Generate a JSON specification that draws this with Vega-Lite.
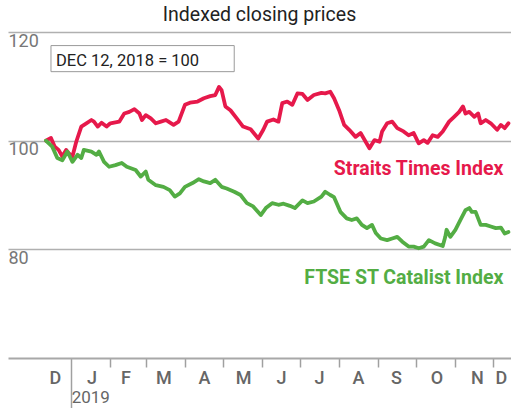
{
  "$schema": "https://vega.github.io/schema/vega-lite/v6.json",
  "width": 503,
  "height": 326,
  "autosize": "none",
  "padding": {"left": 8, "top": 32, "right": 0, "bottom": 50},
  "background": "white",
  "title": {"text": "Indexed closing prices", "font": "Roboto", "fontSize": 19.5, "fontWeight": "normal", "color": "#222222", "anchor": "middle", "frame": "group", "baseline": "alphabetic", "offset": -8},
  "config": {"view": {"stroke": null}},
  "datasets": {
    "prices": [
      {"date": "2018-12-12", "series": "Straits Times Index", "value": 100.0},
      {"date": "2018-12-16", "series": "Straits Times Index", "value": 100.5},
      {"date": "2018-12-19", "series": "Straits Times Index", "value": 98.9},
      {"date": "2018-12-22", "series": "Straits Times Index", "value": 98.3},
      {"date": "2018-12-25", "series": "Straits Times Index", "value": 97.1},
      {"date": "2018-12-28", "series": "Straits Times Index", "value": 98.3},
      {"date": "2018-12-30", "series": "Straits Times Index", "value": 97.7},
      {"date": "2019-01-02", "series": "Straits Times Index", "value": 97.1},
      {"date": "2019-01-05", "series": "Straits Times Index", "value": 99.8},
      {"date": "2019-01-09", "series": "Straits Times Index", "value": 102.6},
      {"date": "2019-01-13", "series": "Straits Times Index", "value": 103.2},
      {"date": "2019-01-17", "series": "Straits Times Index", "value": 103.8},
      {"date": "2019-01-19", "series": "Straits Times Index", "value": 103.5},
      {"date": "2019-01-22", "series": "Straits Times Index", "value": 102.6},
      {"date": "2019-01-25", "series": "Straits Times Index", "value": 103.3},
      {"date": "2019-01-29", "series": "Straits Times Index", "value": 102.6},
      {"date": "2019-02-01", "series": "Straits Times Index", "value": 103.2},
      {"date": "2019-02-08", "series": "Straits Times Index", "value": 103.5},
      {"date": "2019-02-12", "series": "Straits Times Index", "value": 105.0},
      {"date": "2019-02-16", "series": "Straits Times Index", "value": 105.3},
      {"date": "2019-02-20", "series": "Straits Times Index", "value": 105.8},
      {"date": "2019-02-24", "series": "Straits Times Index", "value": 105.0},
      {"date": "2019-02-26", "series": "Straits Times Index", "value": 103.8},
      {"date": "2019-03-01", "series": "Straits Times Index", "value": 104.7},
      {"date": "2019-03-05", "series": "Straits Times Index", "value": 104.1},
      {"date": "2019-03-09", "series": "Straits Times Index", "value": 103.2},
      {"date": "2019-03-13", "series": "Straits Times Index", "value": 103.5},
      {"date": "2019-03-17", "series": "Straits Times Index", "value": 103.8},
      {"date": "2019-03-19", "series": "Straits Times Index", "value": 103.5},
      {"date": "2019-03-23", "series": "Straits Times Index", "value": 102.9},
      {"date": "2019-03-27", "series": "Straits Times Index", "value": 103.5},
      {"date": "2019-04-01", "series": "Straits Times Index", "value": 106.6},
      {"date": "2019-04-05", "series": "Straits Times Index", "value": 107.0},
      {"date": "2019-04-11", "series": "Straits Times Index", "value": 107.2},
      {"date": "2019-04-16", "series": "Straits Times Index", "value": 107.8},
      {"date": "2019-04-21", "series": "Straits Times Index", "value": 108.2},
      {"date": "2019-04-25", "series": "Straits Times Index", "value": 108.4},
      {"date": "2019-04-28", "series": "Straits Times Index", "value": 109.9},
      {"date": "2019-04-30", "series": "Straits Times Index", "value": 109.3},
      {"date": "2019-05-03", "series": "Straits Times Index", "value": 106.3},
      {"date": "2019-05-07", "series": "Straits Times Index", "value": 105.6},
      {"date": "2019-05-12", "series": "Straits Times Index", "value": 104.1},
      {"date": "2019-05-17", "series": "Straits Times Index", "value": 102.6},
      {"date": "2019-05-23", "series": "Straits Times Index", "value": 102.1},
      {"date": "2019-05-29", "series": "Straits Times Index", "value": 100.4},
      {"date": "2019-06-02", "series": "Straits Times Index", "value": 102.0},
      {"date": "2019-06-05", "series": "Straits Times Index", "value": 103.5},
      {"date": "2019-06-10", "series": "Straits Times Index", "value": 103.9},
      {"date": "2019-06-14", "series": "Straits Times Index", "value": 103.5},
      {"date": "2019-06-17", "series": "Straits Times Index", "value": 106.9},
      {"date": "2019-06-21", "series": "Straits Times Index", "value": 107.2},
      {"date": "2019-06-25", "series": "Straits Times Index", "value": 106.6},
      {"date": "2019-06-29", "series": "Straits Times Index", "value": 108.7},
      {"date": "2019-07-03", "series": "Straits Times Index", "value": 108.6},
      {"date": "2019-07-07", "series": "Straits Times Index", "value": 107.5},
      {"date": "2019-07-12", "series": "Straits Times Index", "value": 108.4},
      {"date": "2019-07-18", "series": "Straits Times Index", "value": 108.8},
      {"date": "2019-07-21", "series": "Straits Times Index", "value": 108.7},
      {"date": "2019-07-25", "series": "Straits Times Index", "value": 109.0},
      {"date": "2019-07-28", "series": "Straits Times Index", "value": 107.8},
      {"date": "2019-08-01", "series": "Straits Times Index", "value": 105.6},
      {"date": "2019-08-05", "series": "Straits Times Index", "value": 102.9},
      {"date": "2019-08-09", "series": "Straits Times Index", "value": 102.0},
      {"date": "2019-08-14", "series": "Straits Times Index", "value": 100.7},
      {"date": "2019-08-18", "series": "Straits Times Index", "value": 101.4},
      {"date": "2019-08-22", "series": "Straits Times Index", "value": 99.8},
      {"date": "2019-08-25", "series": "Straits Times Index", "value": 98.6},
      {"date": "2019-08-29", "series": "Straits Times Index", "value": 100.1},
      {"date": "2019-09-02", "series": "Straits Times Index", "value": 99.8},
      {"date": "2019-09-04", "series": "Straits Times Index", "value": 101.7},
      {"date": "2019-09-08", "series": "Straits Times Index", "value": 103.2},
      {"date": "2019-09-12", "series": "Straits Times Index", "value": 103.5},
      {"date": "2019-09-16", "series": "Straits Times Index", "value": 102.3},
      {"date": "2019-09-21", "series": "Straits Times Index", "value": 101.7},
      {"date": "2019-09-25", "series": "Straits Times Index", "value": 101.0},
      {"date": "2019-09-29", "series": "Straits Times Index", "value": 101.4},
      {"date": "2019-10-03", "series": "Straits Times Index", "value": 99.5},
      {"date": "2019-10-07", "series": "Straits Times Index", "value": 100.1},
      {"date": "2019-10-10", "series": "Straits Times Index", "value": 99.6},
      {"date": "2019-10-14", "series": "Straits Times Index", "value": 101.0},
      {"date": "2019-10-18", "series": "Straits Times Index", "value": 100.7},
      {"date": "2019-10-22", "series": "Straits Times Index", "value": 101.7},
      {"date": "2019-10-27", "series": "Straits Times Index", "value": 103.5},
      {"date": "2019-10-31", "series": "Straits Times Index", "value": 104.4},
      {"date": "2019-11-04", "series": "Straits Times Index", "value": 105.3},
      {"date": "2019-11-07", "series": "Straits Times Index", "value": 106.3},
      {"date": "2019-11-09", "series": "Straits Times Index", "value": 105.0},
      {"date": "2019-11-12", "series": "Straits Times Index", "value": 105.3},
      {"date": "2019-11-16", "series": "Straits Times Index", "value": 104.4},
      {"date": "2019-11-19", "series": "Straits Times Index", "value": 105.0},
      {"date": "2019-11-21", "series": "Straits Times Index", "value": 103.2},
      {"date": "2019-11-25", "series": "Straits Times Index", "value": 103.8},
      {"date": "2019-11-29", "series": "Straits Times Index", "value": 103.2},
      {"date": "2019-12-04", "series": "Straits Times Index", "value": 102.0},
      {"date": "2019-12-07", "series": "Straits Times Index", "value": 102.9},
      {"date": "2019-12-10", "series": "Straits Times Index", "value": 102.3},
      {"date": "2019-12-13", "series": "Straits Times Index", "value": 103.2},
      {"date": "2018-12-12", "series": "FTSE ST Catalist Index", "value": 100.0},
      {"date": "2018-12-17", "series": "FTSE ST Catalist Index", "value": 98.9},
      {"date": "2018-12-21", "series": "FTSE ST Catalist Index", "value": 96.8},
      {"date": "2018-12-25", "series": "FTSE ST Catalist Index", "value": 96.4},
      {"date": "2018-12-29", "series": "FTSE ST Catalist Index", "value": 98.0},
      {"date": "2019-01-02", "series": "FTSE ST Catalist Index", "value": 96.1},
      {"date": "2019-01-06", "series": "FTSE ST Catalist Index", "value": 97.4},
      {"date": "2019-01-09", "series": "FTSE ST Catalist Index", "value": 96.8},
      {"date": "2019-01-11", "series": "FTSE ST Catalist Index", "value": 98.3},
      {"date": "2019-01-17", "series": "FTSE ST Catalist Index", "value": 98.0},
      {"date": "2019-01-21", "series": "FTSE ST Catalist Index", "value": 97.4},
      {"date": "2019-01-23", "series": "FTSE ST Catalist Index", "value": 98.0},
      {"date": "2019-01-27", "series": "FTSE ST Catalist Index", "value": 96.1},
      {"date": "2019-01-31", "series": "FTSE ST Catalist Index", "value": 95.2},
      {"date": "2019-02-05", "series": "FTSE ST Catalist Index", "value": 95.5},
      {"date": "2019-02-10", "series": "FTSE ST Catalist Index", "value": 95.9},
      {"date": "2019-02-14", "series": "FTSE ST Catalist Index", "value": 95.2},
      {"date": "2019-02-21", "series": "FTSE ST Catalist Index", "value": 94.6},
      {"date": "2019-02-25", "series": "FTSE ST Catalist Index", "value": 93.4},
      {"date": "2019-03-01", "series": "FTSE ST Catalist Index", "value": 94.3},
      {"date": "2019-03-03", "series": "FTSE ST Catalist Index", "value": 92.8},
      {"date": "2019-03-09", "series": "FTSE ST Catalist Index", "value": 91.8},
      {"date": "2019-03-15", "series": "FTSE ST Catalist Index", "value": 91.5},
      {"date": "2019-03-20", "series": "FTSE ST Catalist Index", "value": 90.9},
      {"date": "2019-03-24", "series": "FTSE ST Catalist Index", "value": 89.7},
      {"date": "2019-03-28", "series": "FTSE ST Catalist Index", "value": 90.3},
      {"date": "2019-04-01", "series": "FTSE ST Catalist Index", "value": 91.5},
      {"date": "2019-04-07", "series": "FTSE ST Catalist Index", "value": 92.2},
      {"date": "2019-04-12", "series": "FTSE ST Catalist Index", "value": 92.9},
      {"date": "2019-04-16", "series": "FTSE ST Catalist Index", "value": 92.5},
      {"date": "2019-04-21", "series": "FTSE ST Catalist Index", "value": 92.2},
      {"date": "2019-04-25", "series": "FTSE ST Catalist Index", "value": 92.8},
      {"date": "2019-04-30", "series": "FTSE ST Catalist Index", "value": 91.5},
      {"date": "2019-05-04", "series": "FTSE ST Catalist Index", "value": 91.2},
      {"date": "2019-05-10", "series": "FTSE ST Catalist Index", "value": 90.6},
      {"date": "2019-05-15", "series": "FTSE ST Catalist Index", "value": 90.0},
      {"date": "2019-05-20", "series": "FTSE ST Catalist Index", "value": 88.5},
      {"date": "2019-05-25", "series": "FTSE ST Catalist Index", "value": 87.9},
      {"date": "2019-05-31", "series": "FTSE ST Catalist Index", "value": 86.3},
      {"date": "2019-06-04", "series": "FTSE ST Catalist Index", "value": 87.6},
      {"date": "2019-06-09", "series": "FTSE ST Catalist Index", "value": 88.5},
      {"date": "2019-06-14", "series": "FTSE ST Catalist Index", "value": 88.2},
      {"date": "2019-06-18", "series": "FTSE ST Catalist Index", "value": 88.4},
      {"date": "2019-06-23", "series": "FTSE ST Catalist Index", "value": 88.0},
      {"date": "2019-06-27", "series": "FTSE ST Catalist Index", "value": 87.6},
      {"date": "2019-07-03", "series": "FTSE ST Catalist Index", "value": 89.0},
      {"date": "2019-07-07", "series": "FTSE ST Catalist Index", "value": 88.5},
      {"date": "2019-07-12", "series": "FTSE ST Catalist Index", "value": 88.8},
      {"date": "2019-07-18", "series": "FTSE ST Catalist Index", "value": 89.7},
      {"date": "2019-07-21", "series": "FTSE ST Catalist Index", "value": 90.6},
      {"date": "2019-07-25", "series": "FTSE ST Catalist Index", "value": 90.0},
      {"date": "2019-07-28", "series": "FTSE ST Catalist Index", "value": 89.6},
      {"date": "2019-08-02", "series": "FTSE ST Catalist Index", "value": 86.9},
      {"date": "2019-08-07", "series": "FTSE ST Catalist Index", "value": 85.7},
      {"date": "2019-08-11", "series": "FTSE ST Catalist Index", "value": 85.4},
      {"date": "2019-08-15", "series": "FTSE ST Catalist Index", "value": 85.7},
      {"date": "2019-08-19", "series": "FTSE ST Catalist Index", "value": 84.5},
      {"date": "2019-08-23", "series": "FTSE ST Catalist Index", "value": 83.9},
      {"date": "2019-08-27", "series": "FTSE ST Catalist Index", "value": 84.5},
      {"date": "2019-08-30", "series": "FTSE ST Catalist Index", "value": 83.0},
      {"date": "2019-09-03", "series": "FTSE ST Catalist Index", "value": 82.0},
      {"date": "2019-09-08", "series": "FTSE ST Catalist Index", "value": 81.7},
      {"date": "2019-09-12", "series": "FTSE ST Catalist Index", "value": 82.0},
      {"date": "2019-09-16", "series": "FTSE ST Catalist Index", "value": 82.3},
      {"date": "2019-09-20", "series": "FTSE ST Catalist Index", "value": 81.4},
      {"date": "2019-09-25", "series": "FTSE ST Catalist Index", "value": 80.5},
      {"date": "2019-09-29", "series": "FTSE ST Catalist Index", "value": 80.5},
      {"date": "2019-10-03", "series": "FTSE ST Catalist Index", "value": 80.2},
      {"date": "2019-10-07", "series": "FTSE ST Catalist Index", "value": 80.5},
      {"date": "2019-10-11", "series": "FTSE ST Catalist Index", "value": 81.7},
      {"date": "2019-10-16", "series": "FTSE ST Catalist Index", "value": 81.1},
      {"date": "2019-10-22", "series": "FTSE ST Catalist Index", "value": 80.6},
      {"date": "2019-10-24", "series": "FTSE ST Catalist Index", "value": 82.3},
      {"date": "2019-10-25", "series": "FTSE ST Catalist Index", "value": 83.6},
      {"date": "2019-10-28", "series": "FTSE ST Catalist Index", "value": 82.3},
      {"date": "2019-11-01", "series": "FTSE ST Catalist Index", "value": 83.6},
      {"date": "2019-11-05", "series": "FTSE ST Catalist Index", "value": 85.4},
      {"date": "2019-11-09", "series": "FTSE ST Catalist Index", "value": 87.2},
      {"date": "2019-11-12", "series": "FTSE ST Catalist Index", "value": 87.6},
      {"date": "2019-11-14", "series": "FTSE ST Catalist Index", "value": 86.9},
      {"date": "2019-11-17", "series": "FTSE ST Catalist Index", "value": 86.9},
      {"date": "2019-11-21", "series": "FTSE ST Catalist Index", "value": 84.5},
      {"date": "2019-11-25", "series": "FTSE ST Catalist Index", "value": 84.5},
      {"date": "2019-11-29", "series": "FTSE ST Catalist Index", "value": 84.2},
      {"date": "2019-12-03", "series": "FTSE ST Catalist Index", "value": 83.9},
      {"date": "2019-12-07", "series": "FTSE ST Catalist Index", "value": 84.0},
      {"date": "2019-12-10", "series": "FTSE ST Catalist Index", "value": 82.9},
      {"date": "2019-12-13", "series": "FTSE ST Catalist Index", "value": 83.2}
    ],
    "labels": [
      {"date": "2019-12-09", "value": 93.77, "series": "Straits Times Index"},
      {"date": "2019-12-09", "value": 73.53, "series": "FTSE ST Catalist Index"}
    ],
    "note": [
      {"start": "2018-12-16", "end": "2019-05-10", "top": 117.5, "bottom": 112.7, "textDate": "2018-12-20", "textValue": 113.83, "text": "DEC 12, 2018 = 100"}
    ]
  },
  "layer": [
    {
      "data": {"name": "prices"},
      "mark": {"type": "line", "strokeWidth": 3.8, "strokeJoin": "round", "strokeCap": "round"},
      "encoding": {
        "x": {
          "field": "date", "type": "temporal",
          "scale": {"type": "utc", "domain": [{"year": 2018, "month": 11, "date": 12, "utc": true}, {"year": 2019, "month": 12, "date": 15, "utc": true}]},
          "axis": {
            "orient": "bottom", "title": null, "grid": false, "labels": false,
            "values": [
              {"year": 2019, "month": 1, "date": 1, "utc": true},
              {"year": 2019, "month": 2, "date": 1, "utc": true},
              {"year": 2019, "month": 3, "date": 1, "utc": true},
              {"year": 2019, "month": 4, "date": 1, "utc": true},
              {"year": 2019, "month": 5, "date": 1, "utc": true},
              {"year": 2019, "month": 6, "date": 1, "utc": true},
              {"year": 2019, "month": 7, "date": 1, "utc": true},
              {"year": 2019, "month": 8, "date": 1, "utc": true},
              {"year": 2019, "month": 9, "date": 1, "utc": true},
              {"year": 2019, "month": 10, "date": 1, "utc": true},
              {"year": 2019, "month": 11, "date": 1, "utc": true},
              {"year": 2019, "month": 12, "date": 1, "utc": true}
            ],
            "ticks": true,
            "tickSize": {"condition": {"test": "utcmonth(datum.value) == 0", "value": 50}, "value": 9},
            "tickColor": "#a0a0a0", "tickWidth": 1.5,
            "domain": true, "domainColor": "#a8a8a8", "domainWidth": 2
          }
        },
        "y": {
          "field": "value", "type": "quantitative",
          "scale": {"domain": [60, 120], "nice": false, "zero": false},
          "axis": {
            "title": null, "values": [80, 100, 120], "orient": "left",
            "grid": true, "gridColor": "#b0b0b0", "gridWidth": 1.5,
            "domain": false, "ticks": false, "tickSize": 0,
            "labelAlign": "left", "labelBaseline": "top", "labelPadding": 0, "labelDy": 7,
            "labelFont": "Roboto", "labelFontSize": 18, "labelColor": "#777777"
          }
        },
        "color": {
          "field": "series", "type": "nominal", "legend": null,
          "scale": {"domain": ["Straits Times Index", "FTSE ST Catalist Index"], "range": ["#E6194B", "#53AD44"]}
        }
      }
    },
    {
      "data": {"name": "labels"},
      "mark": {"type": "text", "align": "right", "baseline": "alphabetic", "font": "Roboto", "fontWeight": "bold", "fontSize": 19.5},
      "encoding": {
        "x": {
          "field": "date", "type": "temporal",
          "axis": {
            "orient": "bottom", "title": null, "grid": false, "ticks": false, "domain": false,
            "values": [
              {"year": 2018, "month": 12, "date": 19, "utc": true},
              {"year": 2019, "month": 1, "date": 17, "utc": true},
              {"year": 2019, "month": 2, "date": 13, "utc": true},
              {"year": 2019, "month": 3, "date": 15, "utc": true},
              {"year": 2019, "month": 4, "date": 16, "utc": true},
              {"year": 2019, "month": 5, "date": 17, "utc": true},
              {"year": 2019, "month": 6, "date": 16, "utc": true},
              {"year": 2019, "month": 7, "date": 16, "utc": true},
              {"year": 2019, "month": 8, "date": 16, "utc": true},
              {"year": 2019, "month": 9, "date": 15, "utc": true},
              {"year": 2019, "month": 10, "date": 17, "utc": true},
              {"year": 2019, "month": 11, "date": 18, "utc": true},
              {"year": 2019, "month": 12, "date": 7, "utc": true}
            ],
            "labelExpr": "substring(utcFormat(datum.value, '%b'), 0, 1)",
            "labelPadding": 11, "labelBaseline": "top", "labelFlush": false, "labelOverlap": false,
            "labelFont": "Roboto", "labelFontSize": 18, "labelFontWeight": 500, "labelColor": "#666666"
          }
        },
        "y": {"field": "value", "type": "quantitative"},
        "text": {"field": "series"},
        "color": {"field": "series", "type": "nominal", "legend": null}
      }
    },
    {
      "data": {"name": "note"},
      "mark": {"type": "rect", "fill": "white", "stroke": "#9a9a9a", "strokeWidth": 1},
      "encoding": {
        "x": {
          "field": "start", "type": "temporal",
          "axis": {
            "orient": "bottom", "title": null, "grid": false, "ticks": false, "domain": false,
            "values": [{"year": 2019, "month": 1, "date": 1, "utc": true}],
            "labelExpr": "utcFormat(datum.value, '%Y')",
            "labelAlign": "left", "labelDx": 1, "labelPadding": 31, "labelBaseline": "top", "labelFlush": false, "labelOverlap": false,
            "labelFont": "Roboto", "labelFontSize": 17, "labelColor": "#666666"
          }
        },
        "x2": {"field": "end"},
        "y": {"field": "top", "type": "quantitative"},
        "y2": {"field": "bottom"}
      }
    },
    {
      "data": {"name": "note"},
      "mark": {"type": "text", "align": "left", "baseline": "alphabetic", "font": "Roboto", "fontSize": 16.5, "color": "#222222"},
      "encoding": {
        "x": {"field": "textDate", "type": "temporal", "axis": null},
        "y": {"field": "textValue", "type": "quantitative"},
        "text": {"field": "text"}
      }
    }
  ],
  "resolve": {"axis": {"x": "independent"}}
}
